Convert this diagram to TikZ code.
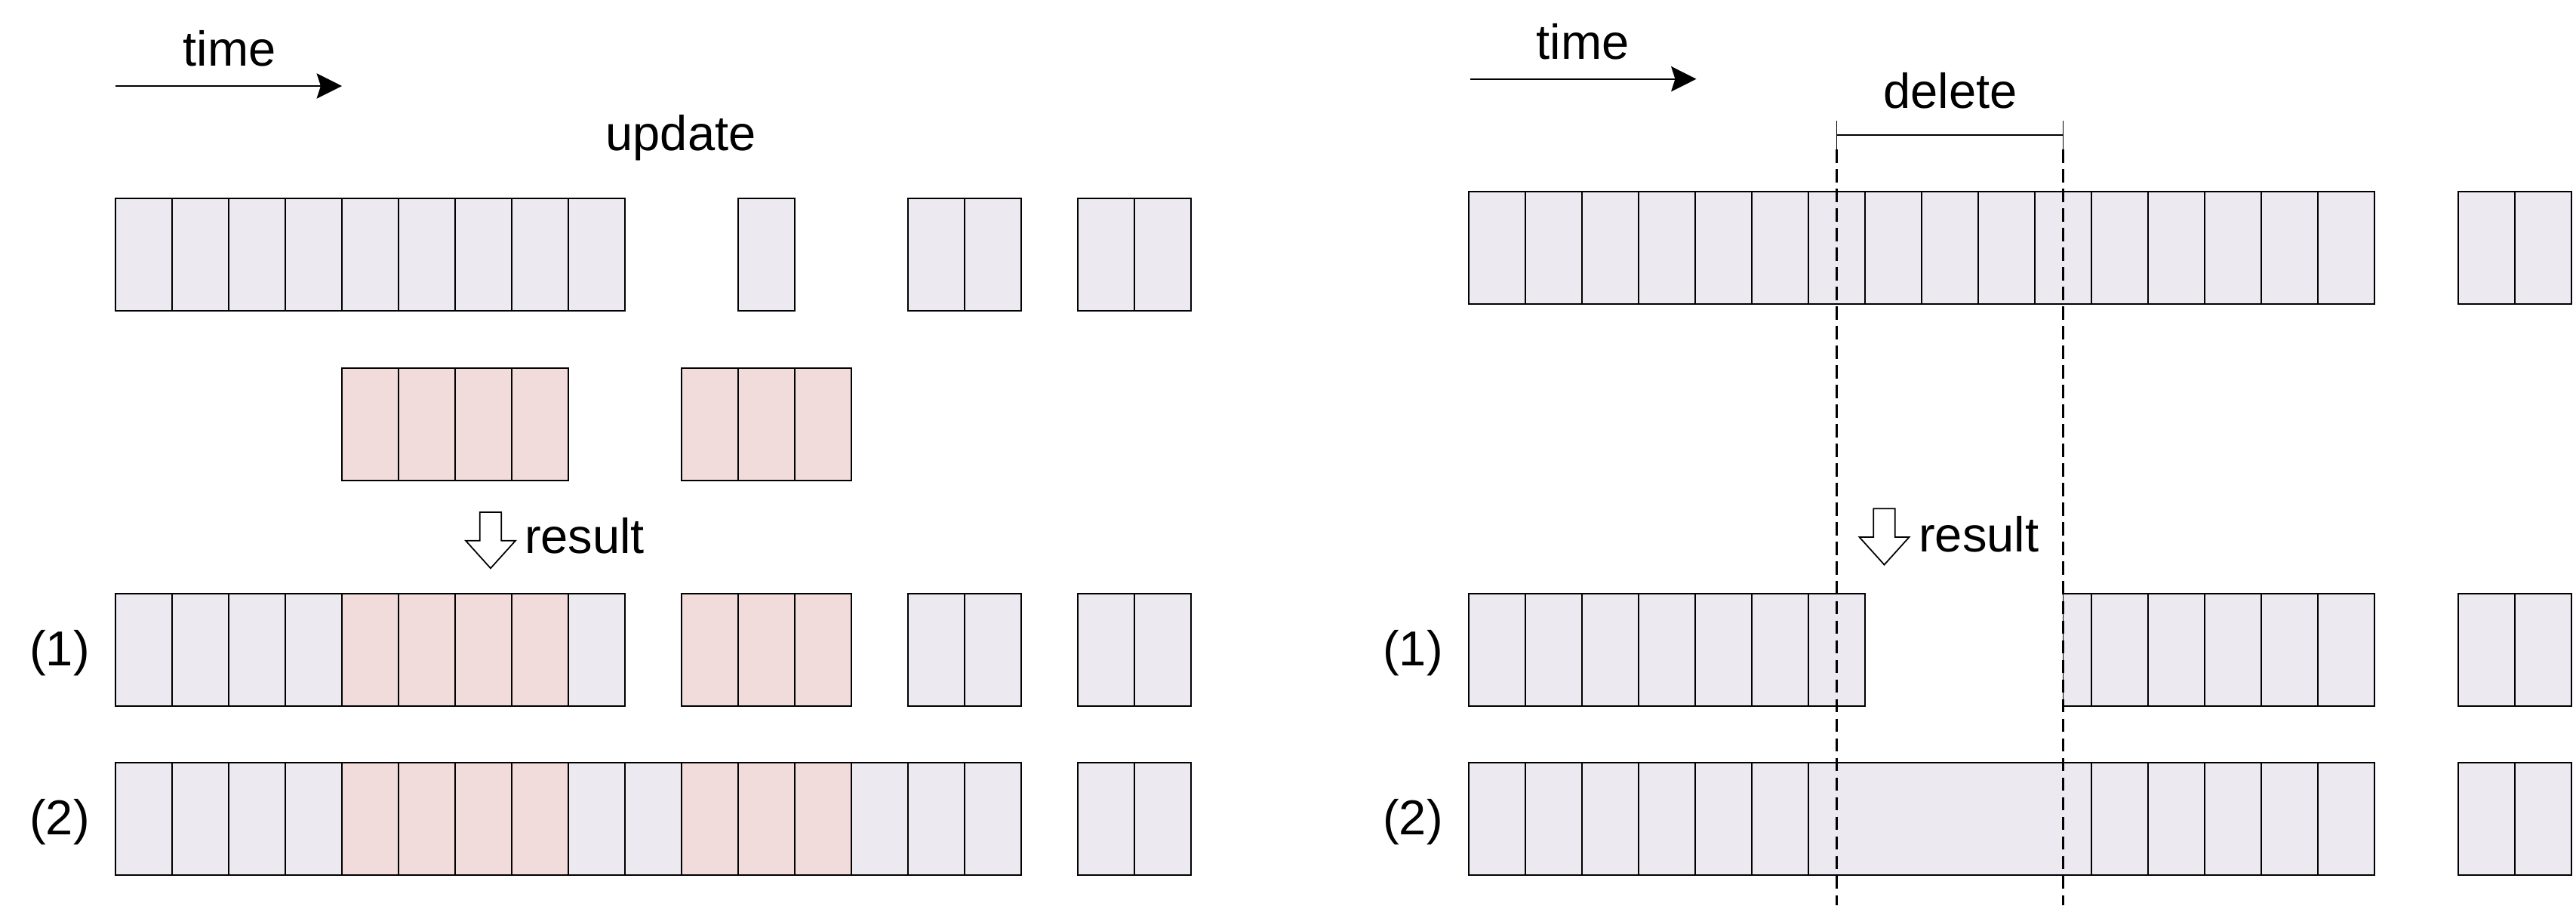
\documentclass[tikz,border=0pt]{standalone}
\usepackage{fontspec}
\setmainfont{Liberation Sans}
\usetikzlibrary{arrows.meta}
\definecolor{cellgray}{HTML}{ECE9F1}
\definecolor{cellpink}{HTML}{F1DCDB}

\begin{document}
\begin{tikzpicture}[
    font=\fontsize{18.5}{22}\selectfont,
    oldcell/.style={draw=black, line width=0.5pt, fill=cellgray},
    newcell/.style={draw=black, line width=0.5pt, fill=cellpink},
    txt/.style={anchor=base, inner sep=0pt},
    cutline/.style={line width=0.6pt, dash pattern=on 5pt off 2.4pt},
    timearrow/.style={-{Stealth[length=9.5pt, width=9.5pt, inset=1.5pt]}, line width=0.55pt},
    resultarrow/.pic={
        \draw[line width=0.5pt, fill=white] (-0.143,0) -- ++(0.286,0) -- ++(0,-0.377)
            -- ++(0.187,0) -- ++(-0.33,-0.366) -- ++(-0.33,0.366) -- ++(0.187,0) -- cycle;
    }
]
    \useasboundingbox (0,0) rectangle (34.13,-12);

    % ---------------- Update ----------------
    % Time axis
    \coordinate (tLs) at (1.53,-1.14);
    \coordinate (tLe) at (4.53,-1.14);
    \draw[timearrow] (tLs) -- (tLe);
    \node[txt] (timeL) at (3.04,-0.87) {time};

    \node[txt] (update) at (9.02,-1.99) {update};

    % Stored data
    \foreach \k in {0,1,2,3,4,5,6,7,8,11,14,15,17,18}
        \draw[oldcell] (1.53+0.75*\k,-2.633) rectangle ++(0.75,-1.49);

    % New data
    \foreach \k in {4,5,6,7,10,11,12}
        \draw[newcell] (1.53+0.75*\k,-4.877) rectangle ++(0.75,-1.49);

    % Result
    \pic at (6.5,-6.79) {resultarrow};
    \node[txt] (resultL) at (7.745,-7.333) {result};

    % (1)
    \node[txt] (oneL) at (0.79,-8.823) {(1)};
    \foreach \k in {0,1,2,3,8,14,15,17,18}
        \draw[oldcell] (1.53+0.75*\k,-7.867) rectangle ++(0.75,-1.49);
    \foreach \k in {4,5,6,7,10,11,12}
        \draw[newcell] (1.53+0.75*\k,-7.867) rectangle ++(0.75,-1.49);

    % (2)
    \node[txt] (twoL) at (0.79,-11.063) {(2)};
    \foreach \k in {0,1,2,3,8,9,13,14,15,17,18}
        \draw[oldcell] (1.53+0.75*\k,-10.107) rectangle ++(0.75,-1.49);
    \foreach \k in {4,5,6,7,10,11,12}
        \draw[newcell] (1.53+0.75*\k,-10.107) rectangle ++(0.75,-1.49);

    % ---------------- Delete ----------------
    % Time axis
    \coordinate (tRs) at (19.475,-1.047);
    \coordinate (tRe) at (22.475,-1.047);
    \draw[timearrow] (tRs) -- (tRe);
    \node[txt] (timeR) at (20.97,-0.787) {time};

    % Stored data
    \foreach \k in {0,...,15}
        \draw[oldcell] (19.46+0.75*\k,-2.54) rectangle ++(0.75,-1.49);
    \foreach \k in {0,1}
        \draw[oldcell] (32.57+0.75*\k,-2.54) rectangle ++(0.75,-1.49);

    % Result
    \pic at (24.965,-6.743) {resultarrow};
    \node[txt] (resultR) at (26.217,-7.317) {result};

    % (1)
    \node[txt] (oneR) at (18.72,-8.823) {(1)};
    \foreach \k in {0,...,6,11,12,13,14,15}
        \draw[oldcell] (19.46+0.75*\k,-7.867) rectangle ++(0.75,-1.49);
    \draw[oldcell] (27.335,-7.867) rectangle (27.71,-9.357);
    \foreach \k in {0,1}
        \draw[oldcell] (32.57+0.75*\k,-7.867) rectangle ++(0.75,-1.49);

    % (2)
    \node[txt] (twoR) at (18.72,-11.063) {(2)};
    \foreach \k in {0,...,5,11,12,13,14,15}
        \draw[oldcell] (19.46+0.75*\k,-10.107) rectangle ++(0.75,-1.49);
    \draw[oldcell] (23.96,-10.107) rectangle (27.71,-11.597);
    \foreach \k in {0,1}
        \draw[oldcell] (32.57+0.75*\k,-10.107) rectangle ++(0.75,-1.49);

    % Deleted range
    \coordinate (delA) at (24.335,-1.793);
    \coordinate (delB) at (27.335,-1.793);
    \draw[line width=0.5pt] (delA) -- (delB);
    \draw[line width=0.5pt] ([yshift=0.19cm]delA) -- ([yshift=-0.19cm]delA);
    \draw[line width=0.5pt] ([yshift=0.19cm]delB) -- ([yshift=-0.19cm]delB);
    \draw[cutline] ([yshift=-0.19cm]delA) -- (24.335,-12);
    \draw[cutline] ([yshift=-0.19cm]delB) -- (27.335,-12);
    \node[txt] (delete) at (25.84,-1.433) {delete};
\end{tikzpicture}
\end{document}
